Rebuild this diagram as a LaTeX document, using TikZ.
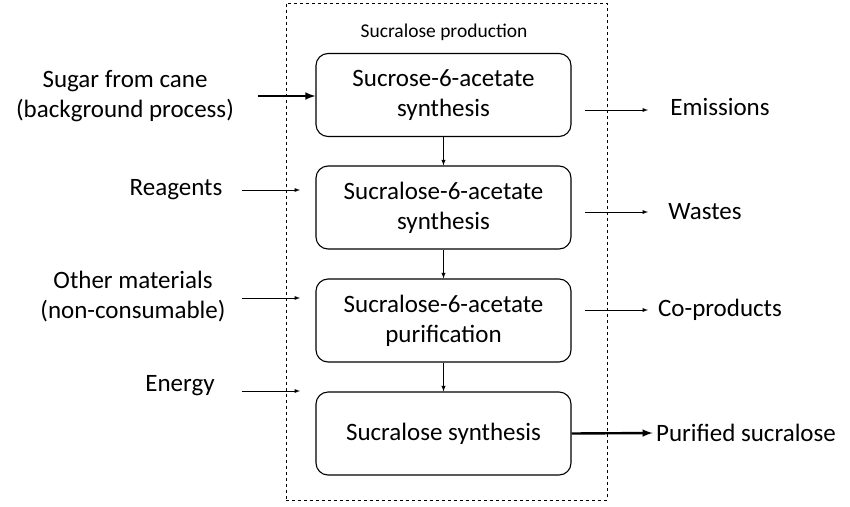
\documentclass[tikz,border=0pt]{standalone}
\usepackage{fontspec}
\setmainfont{Carlito}
\usetikzlibrary{positioning}
\begin{document}
\begin{tikzpicture}[x=1pt,y=-1pt,
    stage/.style = {draw, line width=1.1pt, rounded corners=12pt, minimum width=255pt, minimum height=83pt, align=center, font=\fontsize{25}{30}\selectfont},
    lbl/.style = {align=center, font=\fontsize{25}{30}\selectfont},
    arr/.style = {draw, line width=0.9pt, ->, >=latex},
    barr/.style = {draw, line width=2.4pt, ->, >=latex},
  ]
  \useasboundingbox (0,0) rectangle (850,506);
  \node (frame) [draw, dashed, line width=1pt, minimum width=321pt, minimum height=497pt] at (446.5,251.5) {};
  \node (title) [font=\fontsize{19.5}{23}\selectfont] at (444,32) {Sucralose production};

  \node (s1) [stage] at (443.5,95) {Sucrose-6-acetate\\synthesis};
  \node (s2) [stage] at (443.5,207.5) {Sucralose-6-acetate\\synthesis};
  \node (s3) [stage] at (443.5,320.5) {Sucralose-6-acetate\\purification};
  \node (s4) [stage] at (443.5,433.5) {Sucralose synthesis};

  \node (sugar) [lbl] at (125,96) {Sugar from cane\\(background process)};
  \node (reag) [lbl] at (176,190) {Reagents};
  \node (other) [lbl] at (133,297) {Other materials\\(non-consumable)};
  \node (energy) [lbl] at (180,386) {Energy};
  \coordinate (a1) at (258,96);
  \coordinate (a2) at (242,190);
  \coordinate (a3) at (242,298);
  \coordinate (a4) at (242,391);
  \coordinate (b2) at (300,190);
  \coordinate (b3) at (300,298);
  \coordinate (b4) at (300,391);

  \node (emis) [lbl] at (720,107) {Emissions};
  \node (wast) [lbl] at (705,212) {Wastes};
  \node (copr) [lbl] at (720,310) {Co-products};
  \node (pure) [lbl] at (746,433) {Purified sucralose};
  \coordinate (c1) at (585,110);
  \coordinate (c2) at (585,212);
  \coordinate (c3) at (585,310);
  \coordinate (d1) at (648,110);
  \coordinate (d2) at (648,212);
  \coordinate (d3) at (648,310);

  \path[barr] (a1) -- (s1.west |- a1);
  \path[arr] (a2) -- (b2);
  \path[arr] (a3) -- (b3);
  \path[arr] (a4) -- (b4);
  \path[arr] (c1) -- (d1);
  \path[arr] (c2) -- (d2);
  \path[arr] (c3) -- (d3);
  \path[barr] (s4.east) -- (pure.west);

  \path[arr] (s1) -- (s2);
  \path[arr] (s2) -- (s3);
  \path[arr] (s3) -- (s4);
\end{tikzpicture}
\end{document}
